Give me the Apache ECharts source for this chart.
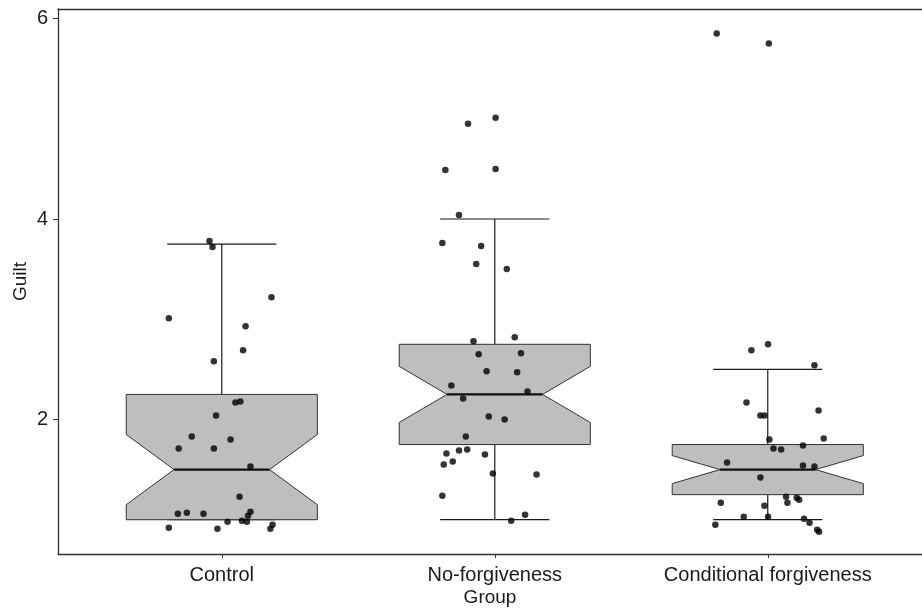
<!DOCTYPE html>
<html>
<head>
<meta charset="utf-8">
<script src="https://cdn.jsdelivr.net/npm/echarts@6/dist/echarts.min.js"></script>
<style>
html,body{margin:0;padding:0;background:#fff;}
#chart{width:922px;height:609px;}
</style>
</head>
<body>
<div id="chart"></div>
<script>
// ---- data ----
const categories = ['Control', 'No-forgiveness', 'Conditional forgiveness'];
const yTicks = [2, 4, 6];

// box statistics per group
const whiskerLow  = [1.0, 1.0, 1.0];
const q1          = [1.0, 1.75, 1.25];
const notchLow    = [1.15, 1.97, 1.36];
const median      = [1.5, 2.25, 1.5];
const notchHigh   = [1.85, 2.53, 1.64];
const q3          = [2.25, 2.75, 1.75];
const whiskerHigh = [3.75, 4.0, 2.5];

// jittered observations (guilt value, horizontal jitter in category units)
const controlGuilt  = [3.78, 3.72, 3.22, 3.01, 2.93, 2.69, 2.58, 2.17, 2.18, 2.04, 1.83, 1.80, 1.71, 1.71, 1.53, 1.23, 1.06, 1.07, 1.06, 1.08, 1.04, 0.98, 0.99, 0.98, 0.92, 0.91, 0.95, 0.91];
const controlJitter = [-0.045, -0.034, 0.182, -0.194, 0.087, 0.078, -0.029, 0.050, 0.068, -0.021, -0.110, 0.032, -0.158, -0.029, 0.105, 0.065, -0.161, -0.128, -0.067, 0.105, 0.096, 0.021, 0.074, 0.092, -0.194, -0.016, 0.186, 0.178];

const noForgGuilt  = [4.95, 5.01, 4.49, 4.50, 4.04, 3.76, 3.73, 3.55, 3.50, 2.78, 2.82, 2.65, 2.66, 2.48, 2.47, 2.34, 2.28, 2.21, 2.03, 2.00, 1.83, 1.66, 1.69, 1.70, 1.65, 1.55, 1.58, 1.46, 1.45, 1.24, 1.05, 0.99];
const noForgJitter = [-0.098, 0.003, -0.181, 0.003, -0.131, -0.192, -0.050, -0.068, 0.044, -0.078, 0.073, -0.059, 0.096, -0.030, 0.082, -0.159, 0.120, -0.116, -0.022, 0.036, -0.106, -0.177, -0.131, -0.101, -0.036, -0.187, -0.154, -0.007, 0.153, -0.192, 0.111, 0.060];

const condGuilt  = [5.85, 5.75, 2.69, 2.75, 2.54, 2.17, 2.04, 2.04, 2.09, 1.80, 1.81, 1.71, 1.70, 1.74, 1.57, 1.54, 1.53, 1.42, 1.23, 1.17, 1.22, 1.20, 1.17, 1.14, 1.03, 1.03, 1.01, 0.97, 0.95, 0.90, 0.88];
const condJitter = [-0.187, 0.004, -0.060, 0.001, 0.171, -0.078, -0.027, -0.012, 0.186, 0.006, 0.205, 0.021, 0.049, 0.129, -0.149, 0.129, 0.171, -0.027, 0.067, 0.072, 0.106, 0.115, -0.172, -0.012, -0.088, 0.001, 0.133, 0.153, -0.192, 0.181, 0.188];

// ---- build ----
const groupsGuilt = [controlGuilt, noForgGuilt, condGuilt];
const groupsJitter = [controlJitter, noForgJitter, condJitter];
const pointData = [];
groupsGuilt.forEach((vals, g) => {
  vals.forEach((v, i) => pointData.push([g + 1 + groupsJitter[g][i], v]));
});

const boxData = categories.map((c, i) => [i + 1, whiskerLow[i], q1[i], notchLow[i], median[i], notchHigh[i], q3[i], whiskerHigh[i]]);

const FONT = "'Liberation Sans', Arial, sans-serif";
const LINE = '#333333';
const TXT = '#1a1a1a';

function renderBox(params, api) {
  const x = api.value(0);
  const hw = 0.35, cap = 0.2;
  const P = (dx, v) => api.coord([x + dx, v]);
  const wl = api.value(1), b1 = api.value(2), nl = api.value(3), md = api.value(4), nh = api.value(5), b3 = api.value(6), wh = api.value(7);
  const poly = [P(-hw, b3), P(hw, b3), P(hw, nh), P(hw / 2, md), P(hw, nl), P(hw, b1), P(-hw, b1), P(-hw, nl), P(-hw / 2, md), P(-hw, nh)];
  const line = (a, b, w, col) => ({
    type: 'line',
    shape: { x1: a[0], y1: a[1], x2: b[0], y2: b[1] },
    style: { stroke: col || LINE, lineWidth: w || 1 }
  });
  return {
    type: 'group',
    children: [
      line(P(0, b3), P(0, wh), 1.2, '#1a1a1a'),
      line(P(0, b1), P(0, wl), 1.2, '#1a1a1a'),
      line(P(-cap, wh), P(cap, wh), 1.2, '#1a1a1a'),
      line(P(-cap, wl), P(cap, wl), 1.2, '#1a1a1a'),
      { type: 'polygon', shape: { points: poly }, style: { fill: '#bebebe', stroke: LINE, lineWidth: 1 } },
      line(P(-hw / 2, md), P(hw / 2, md), 2.2, '#111111')
    ]
  };
}

const chart = echarts.init(document.getElementById('chart'), null, { renderer: 'canvas' });
chart.setOption({
  animation: false,
  backgroundColor: '#ffffff',
  textStyle: { fontFamily: FONT },
  grid: { left: 58, top: 9, right: 0, height: 545, show: false, containLabel: false, outerBoundsMode: 'none' },
  xAxis: [{
    type: 'value', min: 0.4, max: 3.565,
    splitLine: { show: false },
    axisLine: { show: true, onZero: false, lineStyle: { color: LINE, width: 1.3 } },
    axisTick: { show: true, customValues: [1, 2, 3], length: 4, lineStyle: { color: LINE } },
    axisLabel: { customValues: [1, 2, 3], formatter: v => categories[Math.round(v) - 1], color: TXT, fontSize: 20, margin: 11, fontFamily: FONT },
    name: 'Group', nameLocation: 'middle', nameGap: 34, nameMoveOverlap: false,
    nameTextStyle: { color: TXT, fontSize: 19, fontFamily: FONT }
  }, {
    type: 'value', min: 0.4, max: 3.565, position: 'top',
    splitLine: { show: false },
    axisLine: { show: true, onZero: false, lineStyle: { color: LINE, width: 1.3 } },
    axisTick: { show: false }, axisLabel: { show: false }
  }],
  yAxis: {
    type: 'value', min: 0.658, max: 6.095,
    splitLine: { show: false },
    axisLine: { show: true, onZero: false, lineStyle: { color: LINE, width: 1.3 } },
    axisTick: { show: true, customValues: yTicks, length: 5, lineStyle: { color: LINE } },
    axisLabel: { customValues: yTicks, color: TXT, fontSize: 20, margin: 10, fontFamily: FONT },
    name: 'Guilt', nameLocation: 'middle', nameGap: 28, nameRotate: 90, nameMoveOverlap: false,
    nameTextStyle: { color: TXT, fontSize: 19, fontFamily: FONT }
  },
  series: [
    { type: 'custom', renderItem: renderBox, data: boxData, encode: { x: 0, y: [1, 7] }, z: 2 },
    { type: 'scatter', data: pointData, symbol: 'circle', symbolSize: 6.5, itemStyle: { color: '#000000' }, z: 3 }
  ]
});
</script>
</body>
</html>
